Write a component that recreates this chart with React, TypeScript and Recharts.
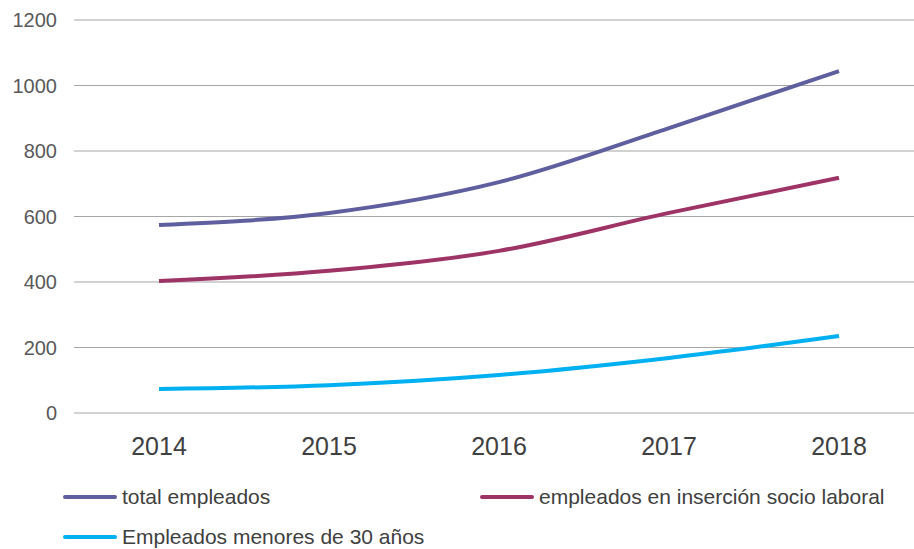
import React from 'react';
import { LineChart, Line, XAxis, YAxis, CartesianGrid, Legend } from 'recharts';

const years = ['2014', '2015', '2016', '2017', '2018'];
const totalEmpleados = [574, 611, 705, 870, 1044];
const insercionSocioLaboral = [403, 434, 495, 611, 718];
const menores30 = [73, 85, 116, 168, 235];
const yTicks = [0, 200, 400, 600, 800, 1000, 1200];

const data = years.map((year, i) => ({
  year,
  total: totalEmpleados[i],
  insercion: insercionSocioLaboral[i],
  menores: menores30[i],
}));

const FONT = '"Liberation Sans", Arial, sans-serif';

// posiciones de la leyenda (dos columnas, dos filas)
const legendSlots: Record<string, { left: number; top: number }> = {
  total: { left: 63, top: 0 },
  insercion: { left: 480, top: 0 },
  menores: { left: 63, top: 40 },
};

const CustomLegend = ({ payload }: any) => (
  <div style={{ position: 'relative', width: 914, height: 60 }}>
    {(payload || []).map((entry: any, index: number) => {
      const slot = legendSlots[entry.dataKey] || { left: 63, top: index * 40 };
      return (
        <div
          key={`legend-${index}`}
          style={{
            position: 'absolute',
            left: slot.left,
            top: slot.top,
            display: 'flex',
            alignItems: 'center',
            height: 24,
            whiteSpace: 'nowrap',
          }}
        >
          <span
            style={{
              display: 'inline-block',
              width: 54,
              height: 4,
              borderRadius: 2,
              background: entry.color,
              marginRight: 5,
            }}
          />
          <span style={{ fontSize: 21, color: '#404040', fontFamily: FONT }}>{entry.value}</span>
        </div>
      );
    })}
  </div>
);

export default function App() {
  return (
    <div
      style={{
        position: 'absolute',
        left: 0,
        top: 0,
        width: 914,
        height: 549,
        overflow: 'hidden',
        background: '#fff',
        fontFamily: FONT,
      }}
    >
      <LineChart width={924} height={549} data={data} margin={{ top: 20, right: 0, left: 0, bottom: 36 }}>
        <CartesianGrid vertical={false} stroke="#A6A6A6" strokeWidth={1.2} />
        <XAxis
          dataKey="year"
          height={40}
          padding={{ left: 85, right: 85 }}
          axisLine={false}
          tickLine={false}
          tickSize={0}
          tickMargin={24}
          tick={{ fontSize: 25, fill: '#404040', fontFamily: FONT }}
        />
        <YAxis
          width={74}
          domain={[0, 1200]}
          ticks={yTicks}
          axisLine={false}
          tickLine={false}
          tickSize={0}
          tickMargin={17}
          tick={{ fontSize: 20, fill: '#595959', fontFamily: FONT }}
        />
        <Legend
          content={<CustomLegend />}
          wrapperStyle={{ left: 0, top: 485, width: 914 }}
        />
        <Line
          type="monotone"
          dataKey="total"
          name="total empleados"
          stroke="#5F5F9F"
          strokeWidth={4}
          dot={false}
          isAnimationActive={false}
        />
        <Line
          type="monotone"
          dataKey="insercion"
          name="empleados en inserción socio laboral"
          stroke="#9E3366"
          strokeWidth={4}
          dot={false}
          isAnimationActive={false}
        />
        <Line
          type="monotone"
          dataKey="menores"
          name="Empleados menores de 30 años"
          stroke="#00B0F0"
          strokeWidth={4}
          dot={false}
          isAnimationActive={false}
        />
      </LineChart>
    </div>
  );
}
